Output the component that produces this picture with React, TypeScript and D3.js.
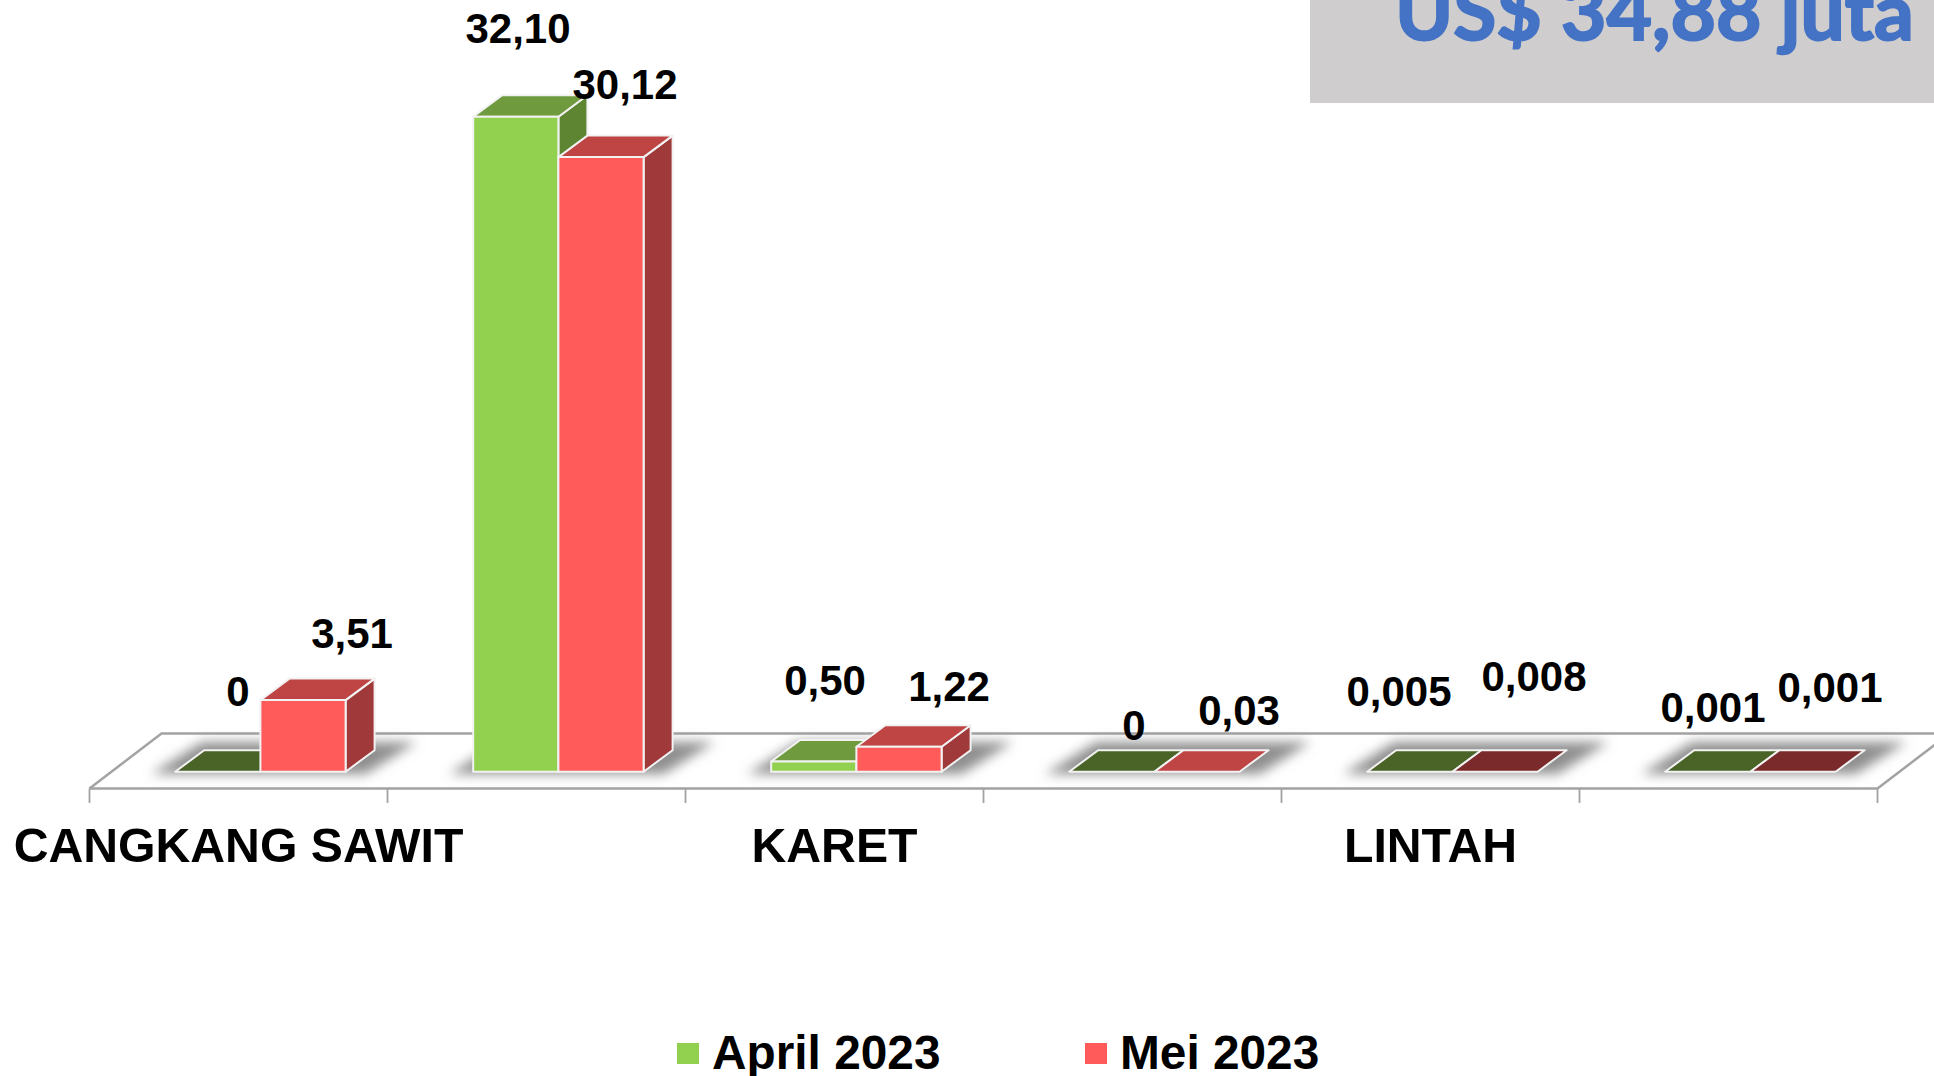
import React, { useEffect, useRef } from "react";
import * as d3 from "d3";

const categories = ["CANGKANG SAWIT", "cat2", "KARET", "cat4", "LINTAH", "cat6"];
const visibleLabels = ["CANGKANG SAWIT", "", "KARET", "", "LINTAH", ""];
const april = [0, 32.1, 0.5, 0, 0.005, 0.001];
const mei = [3.51, 30.12, 1.22, 0.03, 0.008, 0.001];
const aprilLabels = ["0", "32,10", "0,50", "0", "0,005", "0,001"];
const meiLabels = ["3,51", "30,12", "1,22", "0,03", "0,008", "0,001"];
const seriesNames = ["April 2023", "Mei 2023"];
const titleText = "US$ 34,88 juta";

const W = 1934, H = 1076;
const FONT = "'Liberation Sans', Arial, sans-serif";

export default function App() {
  const ref = useRef<SVGSVGElement>(null);
  useEffect(() => {
    const svg = d3.select(ref.current);
    svg.selectAll("*").remove();
    const defs = svg.append("defs");
    defs.append("filter").attr("id", "blur").attr("x", "-20%").attr("y", "-80%").attr("width", "140%").attr("height", "260%")
      .append("feGaussianBlur").attr("stdDeviation", 6);

    const x = d3.scaleBand<string>().domain(categories).range([89.5, 1877.5]);
    const y = d3.scaleLinear().domain([0, 32.1]).range([771.7, 116.7]);
    const barW = 85.2, dx = 29, dy = 21.5, floorDx = 72;
    const frontY = 788.5, backY = 733.5;

    const grey = "#a3a3a3";
    // floor
    svg.append("path")
      .attr("d", `M${89.5},${frontY}L${89.5 + floorDx},${backY}L${W + 10},${backY}`)
      .attr("fill", "none").attr("stroke", grey).attr("stroke-width", 2.5);
    svg.append("path")
      .attr("d", `M${89.5},${frontY}L${1877.5},${frontY}L${1877.5 + floorDx},${backY}`)
      .attr("fill", "none").attr("stroke", grey).attr("stroke-width", 2.5);
    const ticks = [...categories.map((c) => x(c)!), 1877.5];
    svg.selectAll("line.t").data(ticks).join("line").attr("class", "t")
      .attr("x1", (d) => d).attr("x2", (d) => d).attr("y1", frontY).attr("y2", 803)
      .attr("stroke", grey).attr("stroke-width", 1.8);

    const bx = (c: string, s: number) => x(c)! + 85.7 + s * barW;
    // shadows
    categories.forEach((c) => {
      const l = bx(c, 0), r = l + 2 * barW;
      svg.append("polygon")
        .attr("points", `${l - 24},774 ${r + 20},774 ${r + dx + 42},742 ${l + dx - 2},742`)
        .attr("fill", "#8f8f8f").attr("filter", "url(#blur)");
    });

    const palette = [
      { front: "#92D050", top: "#6F9B3E", side: "#5E8632", flat: "#4A6326" },
      { front: "#FF5B5B", top: "#BF4545", side: "#A03A3A", flat: "#7A2A2A" },
    ];
    const base = y(0);
    const poly = (pts: number[][]) => pts.map((p) => p.join(",")).join(" ");
    const drawBar = (c: string, s: number, v: number) => {
      const p = palette[s];
      const l = bx(c, s), r = l + barW, t = y(v);
      const g = svg.append("g").attr("stroke", "#F2F2F2").attr("stroke-width", 2).attr("stroke-linejoin", "round");
      if (base - t < 0.4) {
        g.append("polygon").attr("points", poly([[l, base], [r, base], [r + dx, base - dy], [l + dx, base - dy]]))
          .attr("fill", p.flat);
        return;
      }
      if (base - t < 2) {
        g.append("polygon").attr("points", poly([[l, base], [r, base], [r + dx, base - dy], [l + dx, base - dy]]))
          .attr("fill", p.top);
        return;
      }
      g.append("polygon").attr("points", poly([[r, t], [r + dx, t - dy], [r + dx, base - dy], [r, base]])).attr("fill", p.side);
      g.append("polygon").attr("points", poly([[l, t], [r, t], [r + dx, t - dy], [l + dx, t - dy]])).attr("fill", p.top);
      g.append("rect").attr("x", l).attr("y", t).attr("width", barW).attr("height", base - t).attr("fill", p.front);
    };
    categories.forEach((c, i) => {
      drawBar(c, 0, april[i]);
      drawBar(c, 1, mei[i]);
    });

    // data labels (placement from the picture)
    const aprilPos = [[238, 706], [518, 43], [825, 695], [1134, 740], [1399, 706], [1713, 722]];
    const meiPos = [[352, 648], [625, 99], [949, 701], [1239, 725], [1534, 691], [1830, 702]];
    const label = (t: string, p: number[]) =>
      svg.append("text").attr("x", p[0]).attr("y", p[1]).attr("text-anchor", "middle")
        .attr("font-family", FONT).attr("font-weight", 700).attr("font-size", 42).attr("fill", "#000").text(t);
    aprilLabels.forEach((t, i) => label(t, aprilPos[i]));
    meiLabels.forEach((t, i) => label(t, meiPos[i]));

    // category labels
    categories.forEach((c, i) => {
      if (!visibleLabels[i]) return;
      svg.append("text").attr("x", x(c)! + x.bandwidth() / 2).attr("y", 862).attr("text-anchor", "middle")
        .attr("font-family", FONT).attr("font-weight", 700).attr("font-size", 48.2).attr("fill", "#000").text(visibleLabels[i]);
    });

    // legend
    const legendX = [677, 1085];
    seriesNames.forEach((n, i) => {
      svg.append("rect").attr("x", legendX[i]).attr("y", 1043).attr("width", 22).attr("height", 21).attr("fill", palette[i].front);
      svg.append("text").attr("x", legendX[i] + 35).attr("y", 1069)
        .attr("font-family", FONT).attr("font-weight", 700).attr("font-size", 47.8).attr("fill", "#000").text(n);
    });

    // title box
    svg.append("rect").attr("x", 1310).attr("y", 0).attr("width", W - 1310).attr("height", 103).attr("fill", "#CFCDCE");
    svg.append("text").attr("x", 1395).attr("y", 40)
      .attr("font-family", "Lato, 'Open Sans', sans-serif").attr("font-weight", 700).attr("font-size", 78.5)
      .attr("fill", "#4472C4").attr("stroke", "#4472C4").attr("stroke-width", 2).text(titleText);
  }, []);
  return (
    <svg ref={ref} width={W} height={H} viewBox={`0 0 ${W} ${H}`}
      style={{ position: "absolute", left: 0, top: 0, display: "block", background: "#fff" }} />
  );
}
